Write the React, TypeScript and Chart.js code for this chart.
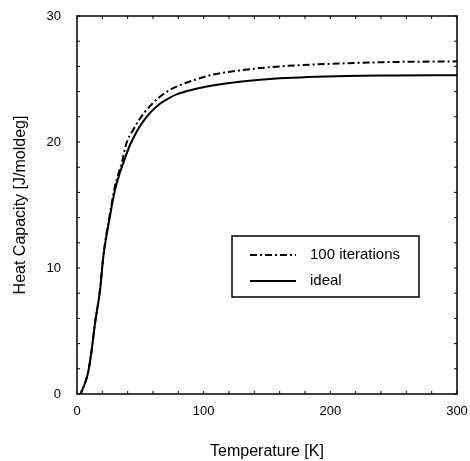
import React, { useEffect, useRef } from "react";
import { Chart, registerables } from "chart.js";

Chart.register(...registerables);

const idealT = [0, 2.5, 4, 6.3, 8.9, 11.6, 14.2, 18.2, 20.8, 26, 30, 34, 38, 42, 47, 52, 58, 65, 72, 79, 87, 95, 108, 130, 160, 213, 250, 300];
const idealC = [0, 0, 0.3, 0.85, 1.77, 3.5, 5.6, 8.25, 10.9, 14.1, 16.2, 17.6, 18.75, 19.8, 20.8, 21.6, 22.35, 23.0, 23.45, 23.8, 24.05, 24.25, 24.5, 24.8, 25.05, 25.24, 25.28, 25.3];

const iterT = [0, 2.5, 4, 6.3, 8.9, 11.6, 14.2, 18.2, 20.8, 26, 30, 36, 38.7, 44.5, 50, 57.6, 65, 71, 81, 92, 107.6, 130, 160, 213, 250, 300];
const iterC = [0, 0, 0.3, 0.85, 1.77, 3.5, 5.6, 8.3, 11.0, 14.3, 16.5, 18.6, 19.8, 21.0, 21.9, 22.85, 23.55, 24.0, 24.5, 24.9, 25.35, 25.7, 26.0, 26.25, 26.35, 26.4];

const xTicks = [0, 100, 200, 300];
const yTicks = [0, 10, 20, 30];

const seriesLabels = ["100 iterations", "ideal"];
const xTitle = "Temperature [K]";
const yTitle = "Heat Capacity [J/moldeg]";

const FONT = "'Liberation Sans', Arial, sans-serif";
const DASH = [7, 3, 2, 3];

const framePlugin = {
  id: "frame",
  afterDraw(chart: any) {
    const { ctx, chartArea: a, scales } = chart;
    const xs = scales.x;
    const ys = scales.y;
    ctx.save();
    ctx.strokeStyle = "#000";
    ctx.lineWidth = 1.5;
    ctx.strokeRect(a.left, a.top, a.right - a.left, a.bottom - a.top);
    ctx.lineWidth = 1;
    const tl = 3;
    for (let v = 0; v <= 300; v += 20) {
      const px = xs.getPixelForValue(v);
      ctx.beginPath();
      ctx.moveTo(px, a.bottom);
      ctx.lineTo(px, a.bottom - tl);
      ctx.moveTo(px, a.top);
      ctx.lineTo(px, a.top + tl);
      ctx.stroke();
    }
    for (let v = 0; v <= 30; v += 2) {
      const py = ys.getPixelForValue(v);
      ctx.beginPath();
      ctx.moveTo(a.left, py);
      ctx.lineTo(a.left + tl, py);
      ctx.moveTo(a.right, py);
      ctx.lineTo(a.right - tl, py);
      ctx.stroke();
    }
    // legend
    const bx = a.left + 155;
    const by = a.top + 220;
    const bw = 187;
    const bh = 61;
    ctx.fillStyle = "#fff";
    ctx.fillRect(bx, by, bw, bh);
    ctx.lineWidth = 1.5;
    ctx.strokeRect(bx, by, bw, bh);
    const rows = [
      { y: by + 19, dash: DASH },
      { y: by + 45, dash: [] as number[] },
    ];
    ctx.font = "15px " + FONT;
    ctx.textBaseline = "middle";
    ctx.fillStyle = "#000";
    rows.forEach((r, i) => {
      ctx.setLineDash(r.dash);
      ctx.lineWidth = 2;
      ctx.beginPath();
      ctx.moveTo(bx + 18, r.y);
      ctx.lineTo(bx + 64, r.y);
      ctx.stroke();
      ctx.setLineDash([]);
      ctx.fillText(seriesLabels[i], bx + 78, r.y);
    });
    ctx.restore();
  },
};

export default function App() {
  const ref = useRef<HTMLCanvasElement | null>(null);
  useEffect(() => {
    document.body.style.margin = "0";
    const canvas = ref.current;
    if (!canvas) return;
    const chart = new Chart(canvas, {
      type: "line",
      data: {
        datasets: [
          {
            label: seriesLabels[0],
            data: iterT.map((t, i) => ({ x: t, y: iterC[i] })),
            borderColor: "#000",
            borderWidth: 2,
            borderDash: DASH,
            pointRadius: 0,
            fill: false,
            cubicInterpolationMode: "monotone",
          },
          {
            label: seriesLabels[1],
            data: idealT.map((t, i) => ({ x: t, y: idealC[i] })),
            borderColor: "#000",
            borderWidth: 2,
            pointRadius: 0,
            fill: false,
            cubicInterpolationMode: "monotone",
          },
        ],
      },
      options: {
        animation: false,
        responsive: false,
        devicePixelRatio: 1,
        layout: { padding: { top: 16, right: 13, left: 0, bottom: 0 } },
        plugins: { legend: { display: false }, tooltip: { enabled: false } },
        scales: {
          x: {
            type: "linear",
            min: 0,
            max: 300,
            afterBuildTicks: (s: any) => {
              s.ticks = xTicks.map((v) => ({ value: v }));
            },
            afterFit: (s: any) => {
              s.height = 67;
              s.paddingLeft = 0;
              s.paddingRight = 0;
              s.paddingTop = 0;
              s.paddingBottom = 0;
            },
            grid: { display: false, drawTicks: false },
            border: { display: false },
            ticks: {
              color: "#000",
              font: { family: FONT, size: 13 },
              padding: 10,
              maxRotation: 0,
            },
            title: {
              display: true,
              text: xTitle,
              color: "#000",
              font: { family: FONT, size: 16 },
              padding: { top: 0, bottom: 0 },
            },
          },
          y: {
            type: "linear",
            min: 0,
            max: 30,
            afterBuildTicks: (s: any) => {
              s.ticks = yTicks.map((v) => ({ value: v }));
            },
            afterFit: (s: any) => {
              s.width = 77;
              s.paddingLeft = 0;
              s.paddingRight = 0;
              s.paddingTop = 0;
              s.paddingBottom = 0;
            },
            grid: { display: false, drawTicks: false },
            border: { display: false },
            ticks: {
              color: "#000",
              font: { family: FONT, size: 13 },
              padding: 16,
            },
            title: {
              display: true,
              text: yTitle,
              color: "#000",
              font: { family: FONT, size: 16 },
              padding: { top: 11, bottom: 0 },
            },
          },
        },
      },
      plugins: [framePlugin],
    } as any);
    return () => chart.destroy();
  }, []);
  return (
    <div style={{ width: 470, height: 461, background: "#fff" }}>
      <canvas ref={ref} width={470} height={461} style={{ display: "block" }} />
    </div>
  );
}
